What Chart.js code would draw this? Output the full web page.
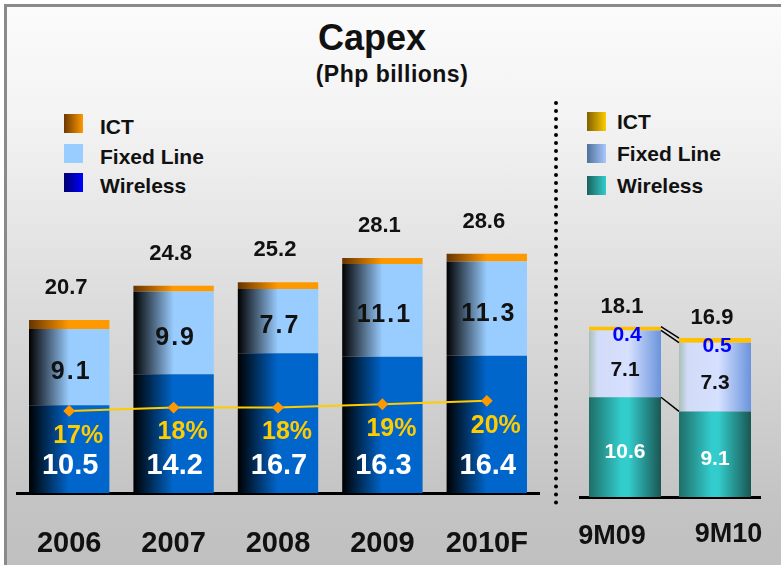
<!DOCTYPE html>
<html lang="en">
  <head>
    <meta charset="utf-8" />
    <title>Capex</title>
    <script src="https://cdn.jsdelivr.net/npm/chart.js@4.4.0/dist/chart.umd.min.js"></script>
    <style>
      body {
        margin: 0;
        width: 781px;
        height: 565px;
        position: relative;
        overflow: hidden;
        background: #fff;
        font-family: "Liberation Sans", Arial, sans-serif;
        font-weight: bold;
        color: #111;
      }
      #frame {
        position: absolute;
        left: 4px;
        top: 4px;
        right: 0;
        bottom: 0;
        border-top: 3px solid #8a8a8a;
        border-left: 3px solid #8a8a8a;
        background: linear-gradient(#fbfbfb 0%, #f3f3f3 20%, #c4c4c4 88%, #c0c0c0 100%);
      }
      canvas { position: absolute; top: 0; }
      .txt { position: absolute; white-space: nowrap; }
      .sw { position: absolute; width: 19px; height: 19px; }
      #sep {
        position: absolute;
        left: 554px;
        top: 101px;
        height: 404px;
        border-left: 4px dotted #000;
      }
    </style>
  </head>
  <body>
    <div id="frame"></div>
    <div class="txt" style="left:372px; top:20px; font-size:36px; line-height:36px; transform:translateX(-50%)">Capex</div>
    <div class="txt" style="left:392px; top:63px; font-size:23px; line-height:23px; letter-spacing:0.5px; transform:translateX(-50%)">(Php billions)</div>

    <!-- legenda sinistra -->
    <div class="sw" style="left:64px; top:114px; background:linear-gradient(90deg,#6b3800,#ff9900)"></div>
    <div class="sw" style="left:64px; top:144px; background:#99ccff"></div>
    <div class="sw" style="left:64px; top:173px; background:linear-gradient(90deg,#000070,#0000ff)"></div>
    <div class="txt" style="left:100px; top:116px; font-size:21px; line-height:21px">ICT</div>
    <div class="txt" style="left:100px; top:146px; font-size:21px; line-height:21px">Fixed Line</div>
    <div class="txt" style="left:100px; top:175px; font-size:21px; line-height:21px">Wireless</div>

    <!-- legenda destra -->
    <div class="sw" style="left:587px; top:112px; background:linear-gradient(90deg,#806000,#ffcc00)"></div>
    <div class="sw" style="left:587px; top:144px; background:linear-gradient(90deg,#50709a,#a8c8ff)"></div>
    <div class="sw" style="left:587px; top:176px; background:linear-gradient(90deg,#1a625e,#33cccc)"></div>
    <div class="txt" style="left:617px; top:111px; font-size:21px; line-height:21px">ICT</div>
    <div class="txt" style="left:617px; top:143px; font-size:21px; line-height:21px">Fixed Line</div>
    <div class="txt" style="left:617px; top:175px; font-size:21px; line-height:21px">Wireless</div>

    <div id="sep"></div>

    <canvas id="yearChart" width="550" height="565" style="left:0"></canvas>
    <canvas id="nineChart" width="221" height="565" style="left:560px"></canvas>

    <script>
      // dati annuali (Php miliardi)
      const years = ["2006", "2007", "2008", "2009", "2010F"];
      const wireless = [10.5, 14.2, 16.7, 16.3, 16.4];
      const fixedLine = [9.1, 9.9, 7.7, 11.1, 11.3];
      const ict = [1.1, 0.7, 0.8, 0.7, 0.9];
      const totals = ["20.7", "24.8", "25.2", "28.1", "28.6"];
      const capexPct = [17, 18, 18, 19, 20];

      // primi nove mesi
      const periods = ["9M09", "9M10"];
      const wireless9m = [10.6, 9.1];
      const fixedLine9m = [7.1, 7.3];
      const ict9m = [0.4, 0.5];
      const totals9m = ["18.1", "16.9"];

      const FONT = '"Liberation Sans", Arial, sans-serif';

      // sfumatura orizzontale sulla larghezza della barra
      function barGradient(stops, barPct) {
        return function (c) {
          const chart = c.chart;
          if (!chart.chartArea || c.dataIndex === undefined) return stops[stops.length - 1][1];
          const xs = chart.scales.x;
          const w = (xs.width / chart.data.labels.length) * barPct;
          const cx = xs.getPixelForValue(c.dataIndex);
          const g = chart.ctx.createLinearGradient(cx - w / 2, 0, cx + w / 2, 0);
          stops.forEach((s) => g.addColorStop(s[0], s[1]));
          return g;
        };
      }

      function label(ctx, s, x, y, size, color, spacing) {
        ctx.save();
        ctx.font = "bold " + size + "px " + FONT;
        ctx.fillStyle = color;
        ctx.textAlign = "center";
        ctx.textBaseline = "middle";
        ctx.letterSpacing = (spacing || 0) + "px";
        ctx.fillText(s, x + (spacing || 0) / 2, y);
        ctx.restore();
      }

      // asse x: altezza fissa, niente margini laterali aggiunti dalle etichette
      function fixAxis(h) {
        return function (s) {
          s.height = h;
          s.paddingLeft = 0;
          s.paddingRight = 0;
        };
      }

      const yearLabels = {
        id: "yearLabels",
        afterDatasetsDraw(chart) {
          const ctx = chart.ctx;
          const w = chart.getDatasetMeta(0).data;
          const f = chart.getDatasetMeta(1).data;
          const t = chart.getDatasetMeta(2).data;
          const p = chart.getDatasetMeta(3).data;
          w.forEach((el, i) => {
            label(ctx, wireless[i].toFixed(1), el.x + 1, el.base - 27, 29, "#fff");
            label(ctx, fixedLine[i].toFixed(1), f[i].x + 1, (f[i].y + f[i].base) / 2 + 5, 25, "#111", 2);
            label(ctx, totals[i], t[i].x - 3, t[i].y - 32, 22, "#111");
            label(ctx, capexPct[i] + "%", p[i].x + 9, p[i].y + 25, 25, "#ffcc00");
          });
        },
      };

      const nineLabels = {
        id: "nineLabels",
        afterDatasetsDraw(chart) {
          const ctx = chart.ctx;
          const w = chart.getDatasetMeta(0).data;
          const f = chart.getDatasetMeta(1).data;
          const t = chart.getDatasetMeta(2).data;
          const xs = chart.scales.x;
          // linee di collegamento tra le due barre
          ctx.save();
          ctx.strokeStyle = "#000";
          ctx.lineWidth = 1.5;
          [t, f, w].forEach((m) => {
            ctx.beginPath();
            ctx.moveTo(m[0].x + m[0].width / 2, m[0].y);
            ctx.lineTo(m[1].x - m[1].width / 2, m[1].y);
            ctx.stroke();
          });
          ctx.restore();
          w.forEach((el, i) => {
            label(ctx, wireless9m[i].toFixed(1), el.x, (el.y + el.base) / 2 + 5, 21, "#fff");
            label(ctx, fixedLine9m[i].toFixed(1), f[i].x, (f[i].y + f[i].base) / 2 + 6, 21, "#111");
            label(ctx, ict9m[i].toFixed(1), t[i].x + 2, t[i].y + 8, 21, "#0000ff");
            label(ctx, totals9m[i], t[i].x - 3, t[i].y - 20, 22, "#111");
          });
          // etichette di categoria, spostate come nell'originale
          const shift = [[-13, 40], [13.5, 38]];
          periods.forEach((s, i) => {
            label(ctx, s, xs.getPixelForValue(i) + shift[i][0], xs.top + shift[i][1], 27, "#111");
          });
        },
      };

      new Chart(document.getElementById("yearChart"), {
        type: "bar",
        data: {
          labels: years,
          datasets: [
            {
              label: "Wireless",
              data: wireless,
              order: 1,
              backgroundColor: barGradient([[0, "#000000"], [0.5, "#0066cc"], [1, "#0066cc"]], 0.77),
            },
            {
              label: "Fixed Line",
              data: fixedLine,
              order: 1,
              backgroundColor: barGradient([[0, "#000000"], [0.5, "#99ccff"], [1, "#99ccff"]], 0.77),
            },
            {
              label: "ICT",
              data: ict,
              order: 1,
              backgroundColor: barGradient([[0, "#663300"], [0.5, "#ff9900"], [1, "#ff9900"]], 0.77),
            },
            {
              type: "line",
              label: "Capex %",
              data: capexPct,
              yAxisID: "y2",
              order: 0,
              borderColor: "#ffcc00",
              borderWidth: 2,
              pointStyle: "rectRot",
              pointRadius: 4.5,
              pointBackgroundColor: "#ff9900",
              pointBorderColor: "#ff9900",
              tension: 0,
            },
          ],
        },
        options: {
          responsive: false,
          animation: false,
          devicePixelRatio: 1,
          layout: { padding: { left: 17, right: 11, top: 100, bottom: 0 } },
          datasets: { bar: { barPercentage: 0.77, categoryPercentage: 1 } },
          plugins: { legend: { display: false }, tooltip: { enabled: false } },
          scales: {
            x: {
              stacked: true,
              grid: { display: false, drawTicks: false },
              border: { display: true, color: "#000", width: 3 },
              ticks: { color: "#111", font: { family: FONT, size: 29, weight: "bold" }, padding: 34 },
              afterFit: fixAxis(72),
            },
            y: { stacked: true, display: false, min: 0, max: 47 },
            y2: { display: false, min: -7.5, max: 109.8 },
          },
        },
        plugins: [yearLabels],
      });

      new Chart(document.getElementById("nineChart"), {
        type: "bar",
        data: {
          labels: periods,
          datasets: [
            {
              label: "Wireless",
              data: wireless9m,
              backgroundColor: barGradient([[0, "#1e6e68"], [0.45, "#33cccc"], [0.55, "#33cccc"], [1, "#1a5652"]], 0.8),
            },
            {
              label: "Fixed Line",
              data: fixedLine9m,
              backgroundColor: barGradient([[0, "#a9bfb6"], [0.12, "#d2dcf8"], [0.55, "#d6e0ff"], [1, "#6a94dc"]], 0.8),
            },
            {
              label: "ICT",
              data: ict9m,
              backgroundColor: "#ffc000",
            },
          ],
        },
        options: {
          responsive: false,
          animation: false,
          devicePixelRatio: 1,
          layout: { padding: { left: 20, right: 21, top: 100, bottom: 0 } },
          datasets: { bar: { barPercentage: 0.8, categoryPercentage: 1 } },
          plugins: { legend: { display: false }, tooltip: { enabled: false } },
          scales: {
            x: {
              stacked: true,
              grid: { display: false, drawTicks: false },
              border: { display: true, color: "#000", width: 3 },
              ticks: { display: false },
              afterFit: fixAxis(68),
            },
            y: { stacked: true, display: false, min: 0, max: 42.2 },
          },
        },
        plugins: [nineLabels],
      });
    </script>
  </body>
</html>
